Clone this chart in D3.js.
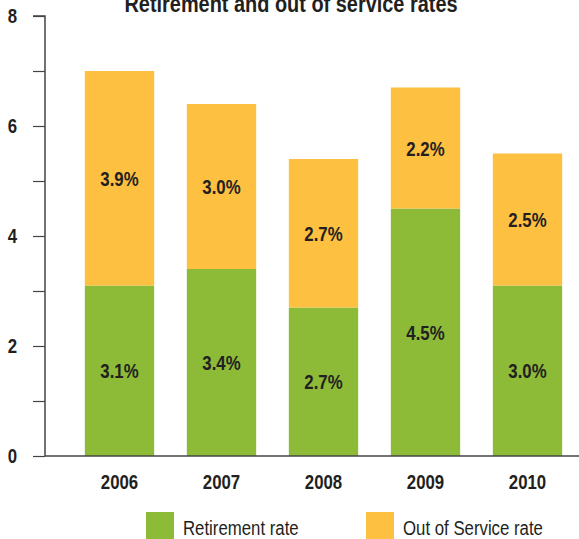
<!DOCTYPE html>
<html>
<head>
<meta charset="utf-8">
<script src="https://cdn.jsdelivr.net/npm/d3@7"></script>
<style>
  body { margin: 0; background: #fff; }
  svg text { font-family: "Liberation Sans", Arial, sans-serif; fill: #231f20; }
</style>
</head>
<body>
<div id="chart"></div>
<script>
//chart data
var years = ["2006", "2007", "2008", "2009", "2010"];
var retirement = [3.1, 3.4, 2.7, 4.5, 3.1];
var outOfService = [3.9, 3.0, 2.7, 2.2, 2.4];
var retirementLabels = ["3.1%", "3.4%", "2.7%", "4.5%", "3.0%"];
var outOfServiceLabels = ["3.9%", "3.0%", "2.7%", "2.2%", "2.5%"];
var yTicks = [0, 1, 2, 3, 4, 5, 6, 7, 8];
var seriesNames = ["Retirement rate", "Out of Service rate"];
var colors = ["#8dbb38", "#fec041"];

//svg dimensions
var svgWidth = 579;
var svgHeight = 539;
var squeeze = 0.8; //condensed look for the text

var svg = d3.select("#chart").append("svg")
    .attr("width", svgWidth)
    .attr("height", svgHeight);

//squash text horizontally around its anchor point
function condense(sel, k) {
    sel.each(function() {
        var t = d3.select(this);
        var x = +t.attr("x") || 0, y = +t.attr("y") || 0;
        t.attr("x", 0).attr("y", 0)
            .attr("transform", `translate(${x},${y}) scale(${k},1)`);
    });
}

//scales
var xScale = d3.scaleBand()
    .domain(years)
    .range([68.5, 578.5])
    .paddingInner(0.32)
    .paddingOuter(0.16);

var yScale = d3.scaleLinear()
    .domain([0, 8])
    .range([456, 16]);

//title (sits partly above the top edge)
var title = svg.append("text")
    .attr("x", 291)
    .attr("y", 12)
    .attr("text-anchor", "middle")
    .style("font-size", "24px")
    .style("font-weight", "bold")
    .text("Retirement and out of service rates");
condense(title, 0.83);

//stacked rows
var rows = years.map((y, i) => ({
    year: y,
    ret: retirement[i],
    out: outOfService[i],
    retLabel: retirementLabels[i],
    outLabel: outOfServiceLabels[i]
}));

var barGroup = svg.append("g");

//retirement bars
barGroup.selectAll(".ret")
    .data(rows)
    .enter()
    .append("rect")
    .attr("class", "ret")
    .attr("x", d => xScale(d.year))
    .attr("width", xScale.bandwidth())
    .attr("y", d => yScale(d.ret))
    .attr("height", d => yScale(0) - yScale(d.ret))
    .attr("fill", colors[0]);

//out of service bars
barGroup.selectAll(".out")
    .data(rows)
    .enter()
    .append("rect")
    .attr("class", "out")
    .attr("x", d => xScale(d.year))
    .attr("width", xScale.bandwidth())
    .attr("y", d => yScale(d.ret + d.out))
    .attr("height", d => yScale(d.ret) - yScale(d.ret + d.out))
    .attr("fill", colors[1]);

//value labels
var retText = barGroup.selectAll(".retText")
    .data(rows)
    .enter()
    .append("text")
    .attr("x", d => xScale(d.year) + xScale.bandwidth() / 2)
    .attr("y", d => yScale(d.ret / 2))
    .attr("dy", "0.36em")
    .attr("text-anchor", "middle")
    .style("font-size", "21px")
    .style("font-weight", "bold")
    .text(d => d.retLabel);
condense(retText, squeeze);

var outText = barGroup.selectAll(".outText")
    .data(rows)
    .enter()
    .append("text")
    .attr("x", d => xScale(d.year) + xScale.bandwidth() / 2)
    .attr("y", d => yScale(d.ret + d.out / 2))
    .attr("dy", "0.36em")
    .attr("text-anchor", "middle")
    .style("font-size", "21px")
    .style("font-weight", "bold")
    .text(d => d.outLabel);
condense(outText, squeeze);

//y axis
var leftAxis = d3.axisLeft(yScale)
    .tickValues(yTicks)
    .tickSize(12)
    .tickPadding(16)
    .tickFormat(d => d % 2 === 0 ? d : "");

var yAxis = svg.append("g")
    .attr("transform", "translate(45,0)")
    .call(leftAxis);

yAxis.select(".domain")
    .attr("d", `M-12,${yScale(8)}H0V${yScale(0)}`)
    .attr("stroke", "#444")
    .attr("stroke-width", 1.5);
yAxis.selectAll(".tick line").attr("stroke", "#444").attr("stroke-width", 1.2);
yAxis.selectAll(".tick text")
    .style("font-size", "21px")
    .style("font-weight", "bold")
    .attr("fill", "#231f20")
    .call(condense, squeeze);

//baseline
svg.append("line")
    .attr("x1", 45)
    .attr("x2", svgWidth)
    .attr("y1", yScale(0))
    .attr("y2", yScale(0))
    .attr("stroke", "#444")
    .attr("stroke-width", 1.5);

//x labels
var bottomAxis = d3.axisBottom(xScale).tickSize(0).tickPadding(18);
var xAxis = svg.append("g")
    .attr("transform", `translate(0,${yScale(0)})`)
    .call(bottomAxis);
xAxis.select(".domain").remove();
xAxis.selectAll(".tick text")
    .style("font-size", "21px")
    .style("font-weight", "bold")
    .attr("fill", "#231f20")
    .call(condense, squeeze);

//legend
var legendX = [146, 366];
var legend = svg.append("g");
seriesNames.forEach((name, i) => {
    legend.append("rect")
        .attr("x", legendX[i])
        .attr("y", 512)
        .attr("width", 28)
        .attr("height", 27)
        .attr("fill", colors[i]);
    legend.append("text")
        .attr("x", legendX[i] + 37)
        .attr("y", 535)
        .style("font-size", "21px")
        .call(condense, squeeze)
        .text(name);
});
</script>
</body>
</html>
